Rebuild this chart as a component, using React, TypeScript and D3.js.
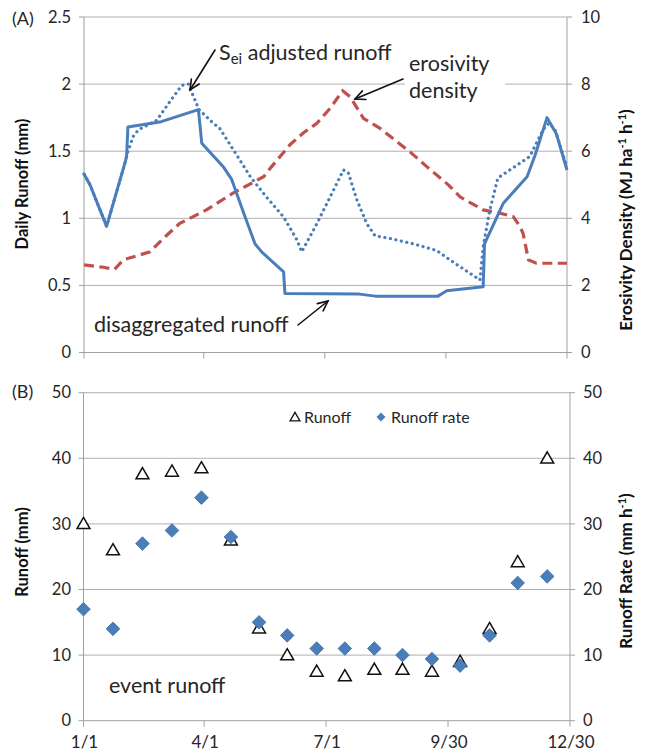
import React from "react";
import * as d3 from "d3";

// ---------- Panel A data ----------
const solidDays = [0, 4.5, 17, 31, 32, 33, 58, 86, 88.5, 105, 111, 120, 128.5, 133.5, 150, 151, 207, 219, 235, 266, 272.6, 300, 301, 315, 333, 339, 348, 355, 363];
const solidVals = [1.33, 1.25, 0.94, 1.42, 1.46, 1.68, 1.72, 1.81, 1.56, 1.38, 1.29, 1.04, 0.81, 0.75, 0.6, 0.44, 0.435, 0.42, 0.42, 0.42, 0.46, 0.49, 0.81, 1.11, 1.31, 1.47, 1.75, 1.63, 1.36];

const dotDays = [0, 4.5, 17, 31, 32, 37, 41, 54.6, 64.6, 73.4, 78.4, 86.4, 97, 102, 111, 125, 137, 150, 160, 163.6, 175, 185, 195, 198.6, 205, 212.5, 218.7, 230, 247.5, 265, 275, 297.6, 300, 305, 311, 320, 335, 345, 349.5, 354, 363];
const dotVals = [1.33, 1.25, 0.94, 1.42, 1.47, 1.61, 1.66, 1.73, 1.87, 1.99, 2.0, 1.81, 1.71, 1.67, 1.53, 1.31, 1.16, 1.01, 0.84, 0.75, 0.96, 1.16, 1.36, 1.34, 1.14, 0.96, 0.87, 0.85, 0.81, 0.76, 0.69, 0.54, 0.79, 1.06, 1.3, 1.36, 1.46, 1.66, 1.71, 1.66, 1.38];

const eroDays = [0, 14.5, 23, 29.5, 49.6, 59.6, 72, 92, 112, 135, 141, 155, 165, 175, 185, 194.4, 200, 210, 222.5, 245, 257.6, 274, 282.6, 300, 312.6, 322.6, 327.7, 330, 334, 340, 363];
const eroVals = [2.61, 2.54, 2.48, 2.76, 3.0, 3.4, 3.85, 4.25, 4.75, 5.24, 5.54, 6.2, 6.55, 6.83, 7.28, 7.8, 7.62, 6.98, 6.68, 5.98, 5.54, 4.99, 4.64, 4.25, 4.15, 4.05, 3.75, 3.55, 2.76, 2.66, 2.66];

const leftTicksA = [0, 0.5, 1, 1.5, 2, 2.5];
const rightTicksA = [0, 2, 4, 6, 8, 10];

// ---------- Panel B data ----------
const eventDays = [0, 22, 44, 66, 88, 110, 131, 152, 174, 195, 217, 238, 260, 281, 303, 324, 346];
const eventRunoff = [30, 26, 37.6, 38, 38.5, 27.5, 14.1, 10, 7.5, 6.8, 7.8, 7.8, 7.5, 9, 14, 24.2, 40];
const eventRate = [17, 14, 27, 29, 34, 28, 15, 13, 11, 11, 11, 10, 9.4, 8.4, 13, 21, 22];
const ticksB = [0, 10, 20, 30, 40, 50];

const dateTicks = [0, 90, 181, 272, 363];
const dateLabels = ["1/1", "4/1", "7/1", "9/30", "12/30"];

const FONT = "Lato, 'Open Sans', sans-serif";
const BLUE = "#4a7ebb";
const RED = "#c0504d";
const GRID = "#b0b0b0";
const AXIS = "#a0a0a0";
const TXT = "#262626";
const ANN = 21.5;
const TITLE = 16.5;

function Arrow({ x1, y1, x2, y2 }: { x1: number; y1: number; x2: number; y2: number }) {
  const ang = Math.atan2(y2 - y1, x2 - x1);
  const L = 11;
  const a = (25 * Math.PI) / 180;
  const p1 = [x2 - L * Math.cos(ang - a), y2 - L * Math.sin(ang - a)];
  const p2 = [x2 - L * Math.cos(ang + a), y2 - L * Math.sin(ang + a)];
  return (
    <g stroke="#111" strokeWidth={1.6} fill="none" strokeLinecap="round">
      <line x1={x1} y1={y1} x2={x2} y2={y2} />
      <polyline points={`${p1[0]},${p1[1]} ${x2},${y2} ${p2[0]},${p2[1]}`} />
    </g>
  );
}

function diamondPath(r: number) {
  return `M0,${-r}L${r},0L0,${r}L${-r},0Z`;
}

export default function App() {
  // Panel A scales
  const xA = d3.scaleLinear().domain([0, 363]).range([84, 567]);
  const yA = d3.scaleLinear().domain([0, 2.5]).range([352.5, 17]);
  const yAR = d3.scaleLinear().domain([0, 10]).range([352.5, 17]);

  // Panel B scales
  const xB = d3.scaleLinear().domain([0, 363]).range([83.5, 570]);
  const yB = d3.scaleLinear().domain([0, 50]).range([720.7, 392.7]);
  const yBR = d3.scaleLinear().domain([0, 50]).range([720.7, 392.7]);

  const lineA = d3
    .line<number>()
    .x((_, i) => xA(solidDays[i]))
    .y((d) => yA(d));
  const lineDot = d3
    .line<number>()
    .x((_, i) => xA(dotDays[i]))
    .y((d) => yA(d));
  const lineEro = d3
    .line<number>()
    .x((_, i) => xA(eroDays[i]))
    .y((d) => yAR(d));

  const tri = d3.symbol().type(d3.symbolTriangle).size(72)();

  return (
    <svg
      width={645}
      height={753}
      style={{ position: "absolute", left: 0, top: 0, background: "#fff" }}
      fontFamily={FONT}
    >
      <rect x={0} y={0} width={645} height={753} fill="#fff" />

      {/* ================= Panel A ================= */}
      <g>
        {leftTicksA.map((t) => (
          <g key={"ga" + t}>
            {t > 0 && (
              <line x1={xA(0)} x2={xA(363)} y1={yA(t)} y2={yA(t)} stroke={GRID} strokeWidth={1} />
            )}
            <line x1={xA(0) - 5} x2={xA(0)} y1={yA(t)} y2={yA(t)} stroke={AXIS} />
            <text x={71} y={yA(t)} dy="0.35em" textAnchor="end" fontSize={16.5} fill={TXT}>
              {t}
            </text>
          </g>
        ))}
        {rightTicksA.map((t) => (
          <g key={"gar" + t}>
            <line x1={xA(363)} x2={xA(363) + 5} y1={yAR(t)} y2={yAR(t)} stroke={AXIS} />
            <text x={581} y={yAR(t)} dy="0.35em" textAnchor="start" fontSize={16.5} fill={TXT}>
              {t}
            </text>
          </g>
        ))}
        {/* axes */}
        <line x1={xA(0)} x2={xA(0)} y1={yA(0)} y2={yA(2.5)} stroke={AXIS} />
        <line x1={xA(363)} x2={xA(363)} y1={yA(0)} y2={yA(2.5)} stroke={AXIS} />
        <line x1={xA(0)} x2={xA(363)} y1={yA(0)} y2={yA(0)} stroke={AXIS} />
        {dateTicks.map((d) => (
          <line key={"xa" + d} x1={xA(d)} x2={xA(d)} y1={yA(0)} y2={yA(0) + 6} stroke={AXIS} />
        ))}

        {/* white box behind the erosivity label (hides grid line) */}
        <rect x={405} y={54} width={100} height={52} fill="#fff" />

        {/* series */}
        <path d={lineEro(eroVals) || ""} fill="none" stroke={RED} strokeWidth={3.2} strokeDasharray="10,5.5" />
        <path d={lineA(solidVals) || ""} fill="none" stroke={BLUE} strokeWidth={3} strokeLinejoin="round" />
        <path
          d={lineDot(dotVals) || ""}
          fill="none"
          stroke={BLUE}
          strokeWidth={3.2}
          strokeDasharray="0.1,5.5"
          strokeLinecap="round"
        />

        {/* annotations */}
        <text x={12} y={25} fontSize={18} fill={TXT}>(A)</text>
        <text x={219} y={60} fontSize={ANN} fill={TXT}>
          S<tspan fontSize={15} dy={4}>ei</tspan>
          <tspan dy={-4}> adjusted runoff</tspan>
        </text>
        <Arrow x1={215} y1={50} x2={190} y2={90} />

        <text x={409} y={71} fontSize={ANN} fill={TXT}>erosivity</text>
        <text x={409} y={98} fontSize={ANN} fill={TXT}>density</text>
        <Arrow x1={403} y1={79} x2={355} y2={99} />

        <text x={94} y={332} fontSize={ANN} fill={TXT}>disaggregated runoff</text>
        <Arrow x1={298} y1={325} x2={328} y2={301} />

        <text
          transform="translate(28,184) rotate(-90)"
          textAnchor="middle"
          fontSize={TITLE}
          fontWeight="bold"
          fill="#111"
        >
          Daily Runoff (mm)
        </text>
        <text
          transform="translate(632,220) rotate(-90)"
          textAnchor="middle"
          fontSize={17}
          fontWeight="bold"
          fill="#111"
        >
          Erosivity Density (MJ ha
          <tspan fontSize={11} dy={-6}>-1</tspan>
          <tspan dy={6}> h</tspan>
          <tspan fontSize={11} dy={-6}>-1</tspan>
          <tspan dy={6}>)</tspan>
        </text>
      </g>

      {/* ================= Panel B ================= */}
      <g>
        {ticksB.map((t) => (
          <g key={"gb" + t}>
            {t > 0 && (
              <line x1={xB(0)} x2={xB(363)} y1={yB(t)} y2={yB(t)} stroke={GRID} strokeWidth={1} />
            )}
            <line x1={xB(0) - 5} x2={xB(0)} y1={yB(t)} y2={yB(t)} stroke={AXIS} />
            <text x={71} y={yB(t)} dy="0.35em" textAnchor="end" fontSize={16.5} fill={TXT}>
              {t}
            </text>
            <line x1={xB(363)} x2={xB(363) + 5} y1={yBR(t)} y2={yBR(t)} stroke={AXIS} />
            <text x={583} y={yBR(t)} dy="0.35em" textAnchor="start" fontSize={16.5} fill={TXT}>
              {t}
            </text>
          </g>
        ))}
        <line x1={xB(0)} x2={xB(0)} y1={yB(0)} y2={yB(50)} stroke={AXIS} />
        <line x1={xB(363)} x2={xB(363)} y1={yB(0)} y2={yB(50)} stroke={AXIS} />
        <line x1={xB(0)} x2={xB(363)} y1={yB(0)} y2={yB(0)} stroke={AXIS} />
        {dateTicks.map((d, i) => (
          <g key={"xb" + d}>
            <line x1={xB(d)} x2={xB(d)} y1={yB(0)} y2={yB(0) + 6} stroke={AXIS} />
            <text x={xB(d) + 1} y={748} textAnchor="middle" fontSize={17} fill={TXT}>
              {dateLabels[i]}
            </text>
          </g>
        ))}

        {eventRunoff.map((v, i) => (
          <path
            key={"tr" + i}
            d={tri || ""}
            transform={`translate(${xB(eventDays[i])},${yB(v) + 1})`}
            fill="#fff"
            stroke="#111"
            strokeWidth={1.5}
          />
        ))}
        {eventRate.map((v, i) => (
          <path
            key={"dr" + i}
            d={diamondPath(6.8)}
            transform={`translate(${xB(eventDays[i])},${yBR(v)})`}
            fill={BLUE}
            stroke="#3a6aa5"
            strokeWidth={0.8}
          />
        ))}

        {/* legend */}
        <path d={d3.symbol().type(d3.symbolTriangle).size(42)() || ""} transform="translate(295,418)" fill="#fff" stroke="#111" strokeWidth={1.3} />
        <text x={304} y={423} fontSize={16} fill={TXT}>Runoff</text>
        <path d={diamondPath(4.5)} transform="translate(381,417)" fill={BLUE} />
        <text x={391} y={423} fontSize={16} fill={TXT}>Runoff rate</text>

        <text x={12} y={398} fontSize={18} fill={TXT}>(B)</text>
        <text x={109} y={693} fontSize={ANN} fill={TXT}>event runoff</text>

        <text
          transform="translate(28,552) rotate(-90)"
          textAnchor="middle"
          fontSize={TITLE}
          fontWeight="bold"
          fill="#111"
        >
          Runoff (mm)
        </text>
        <text
          transform="translate(632,571) rotate(-90)"
          textAnchor="middle"
          fontSize={17}
          fontWeight="bold"
          fill="#111"
        >
          Runoff Rate (mm h
          <tspan fontSize={11} dy={-6}>-1</tspan>
          <tspan dy={6}>)</tspan>
        </text>
      </g>
    </svg>
  );
}
